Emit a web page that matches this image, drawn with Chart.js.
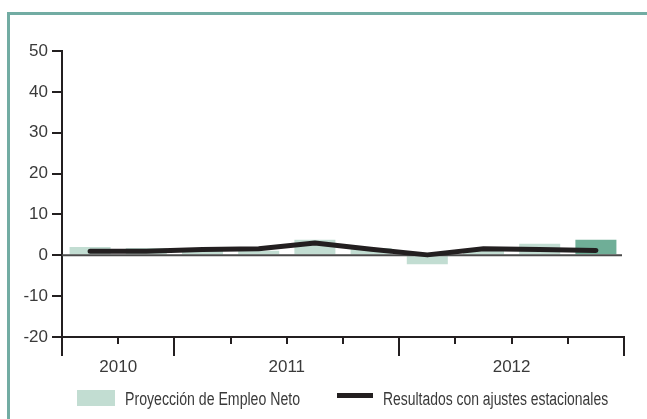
<!DOCTYPE html>
<html>
<head>
<meta charset="utf-8">
<script src="https://cdn.jsdelivr.net/npm/chart.js@4/dist/chart.umd.min.js"></script>
<style>
  html, body { margin: 0; padding: 0; background: #fff; }
  #wrap { position: relative; width: 647px; height: 419px; overflow: hidden; }
  #frame {
    position: absolute; left: 7px; top: 12px; right: -10px; bottom: -10px;
    border-top: 3px solid #72aca3; border-left: 3px solid #72aca3;
  }
  #chart { position: absolute; left: 0; top: 0; }
  .legend {
    position: absolute; top: 389px; height: 20px;
    font-family: "Liberation Sans", Arial, sans-serif;
    font-size: 18px; color: #3a3a3a; line-height: 20px; white-space: nowrap;
    transform-origin: 0 50%;
  }
  .sw { position: absolute; }
</style>
</head>
<body>
<div id="wrap">
  <div id="frame"></div>
  <canvas id="chart" width="647" height="419"></canvas>
  <div class="sw" style="left:77px;top:390px;width:38px;height:16px;background:#c2ddd2"></div>
  <div class="legend" data-w="175" style="left:125px">Proyección de Empleo Neto</div>
  <div class="sw" style="left:337px;top:393px;width:36px;height:5px;background:#231f20"></div>
  <div class="legend" data-w="225" style="left:383px">Resultados con ajustes estacionales</div>
</div>
<script>
// quarters shown, grouped under the year labels below the axis
const quarters = ["T3 2010", "T4 2010", "T1 2011", "T2 2011", "T3 2011", "T4 2011",
                  "T1 2012", "T2 2012", "T3 2012", "T4 2012"];
const proyeccion = [2, 1.8, 1.5, 1.1, 3.8, 1.8, -2.2, 1.5, 2.8, 3.8];
const ajustados = [1, 1, 1.4, 1.6, 3, 1.5, 0.1, 1.6, 1.4, 1.2];
const yearLabels = ["2010", "2011", "2012"];
const yearFirst = [0, 2, 6];
const yearLast = [1, 5, 9];
const yTicks = [-20, -10, 0, 10, 20, 30, 40, 50];

const ink = "#231f20";
const barColors = proyeccion.map((v, i) => i === proyeccion.length - 1 ? "#6fae97" : "#c2ddd2");

// legend labels are set in a condensed face: squeeze the regular one to width
document.querySelectorAll(".legend").forEach(el => {
  el.style.transform = "scaleX(" + (+el.dataset.w / el.offsetWidth) + ")";
});

const axisPlugin = {
  id: "quarterAxis",
  afterDatasetDraw(chart, args) {
    if (args.index !== 1) return;
    const { ctx, chartArea, scales } = chart;
    const y0 = scales.y.getPixelForValue(0);
    ctx.save();
    ctx.strokeStyle = "#4a4a4a";
    ctx.lineWidth = 2;
    ctx.beginPath();
    ctx.moveTo(chartArea.left, y0);
    ctx.lineTo(chartArea.right - 2, y0);
    ctx.stroke();
    ctx.restore();
  },
  afterDraw(chart) {
    const { ctx, chartArea, scales } = chart;
    const x = scales.x;
    const n = quarters.length;
    const step = (chartArea.right - chartArea.left) / n;
    const majors = [0].concat(yearLast.map(i => i + 1));
    ctx.save();
    ctx.strokeStyle = ink;
    ctx.lineWidth = 2;
    ctx.beginPath();
    for (let i = 0; i <= n; i++) {
      const px = Math.round(chartArea.left + i * step);
      const len = majors.includes(i) ? 19 : 7;
      ctx.moveTo(px, chartArea.bottom);
      ctx.lineTo(px, chartArea.bottom + len);
    }
    ctx.stroke();
    ctx.fillStyle = "#3a3a3a";
    ctx.font = "17px 'Liberation Sans', sans-serif";
    ctx.textAlign = "center";
    ctx.textBaseline = "middle";
    yearLabels.forEach((lab, k) => {
      const cx = (x.getPixelForValue(yearFirst[k]) + x.getPixelForValue(yearLast[k])) / 2;
      ctx.fillText(lab, cx, chartArea.bottom + 30);
    });
    ctx.restore();
  }
};

new Chart(document.getElementById("chart"), {
  type: "bar",
  data: {
    labels: quarters,
    datasets: [
      {
        type: "line",
        label: "Resultados con ajustes estacionales",
        data: ajustados,
        borderColor: ink,
        borderWidth: 5,
        borderCapStyle: "round",
        borderJoinStyle: "round",
        pointRadius: 0,
        tension: 0,
        order: 0
      },
      {
        label: "Proyección de Empleo Neto",
        data: proyeccion,
        backgroundColor: barColors,
        borderWidth: 0,
        barPercentage: 0.73,
        categoryPercentage: 1,
        order: 1
      }
    ]
  },
  options: {
    responsive: false,
    animation: false,
    events: [],
    layout: { padding: { left: 0, top: 51, right: 23, bottom: 82 } },
    plugins: { legend: { display: false }, tooltip: { enabled: false } },
    scales: {
      x: {
        offset: true,
        ticks: { display: false },
        grid: { display: false, drawTicks: false },
        border: { display: true, color: ink, width: 2 },
        afterFit(s) { s.height = 0; }
      },
      y: {
        min: -20,
        max: 50,
        afterBuildTicks(s) { s.ticks = yTicks.map(v => ({ value: v })); },
        ticks: {
          color: "#3a3a3a",
          padding: 4,
          font: { family: "'Liberation Sans', sans-serif", size: 17 }
        },
        grid: { drawOnChartArea: false, tickLength: 10, color: ink, lineWidth: 2 },
        border: { display: true, color: ink, width: 2 },
        afterFit(s) { s.width = 62; }
      }
    }
  },
  plugins: [axisPlugin]
});
</script>
</body>
</html>
